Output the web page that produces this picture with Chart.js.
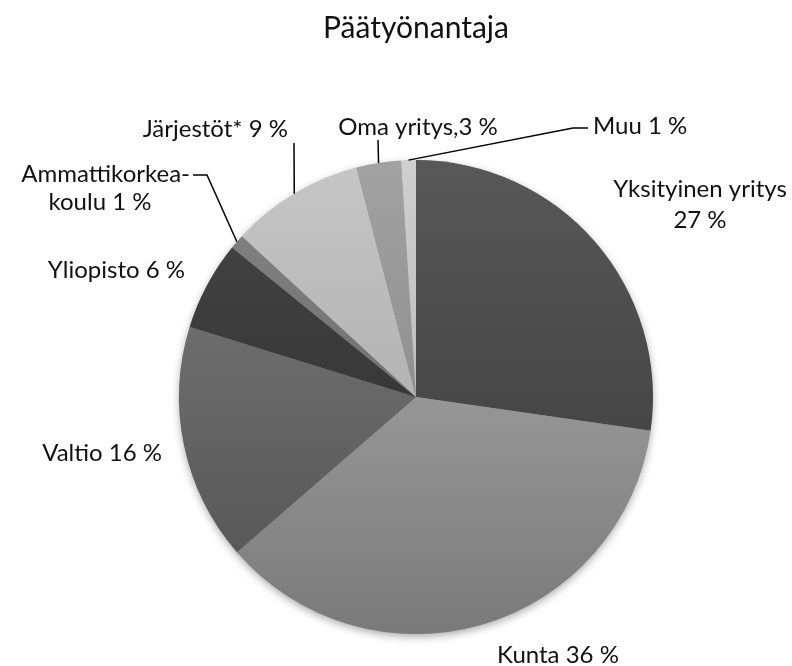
<!DOCTYPE html>
<html>
<head>
<meta charset="utf-8">
<script src="https://cdn.jsdelivr.net/npm/chart.js@4.4.1/dist/chart.umd.min.js"></script>
<style>
  html, body { margin: 0; padding: 0; background: #fff; }
  #wrap { width: 792px; height: 666px; position: relative; }
</style>
</head>
<body>
<div id="wrap"><canvas id="pie"></canvas></div>
<script>
// data
const categories = ['Yksityinen yritys', 'Kunta', 'Valtio', 'Yliopisto', 'Ammattikorkeakoulu', 'Järjestöt*', 'Oma yritys', 'Muu'];
const shares = [27, 36, 16, 6, 1, 9, 3, 1];
const labelLines = [
    ['Yksityinen yritys', '27 %'],
    ['Kunta 36 %'],
    ['Valtio 16 %'],
    ['Yliopisto 6 %'],
    ['Ammattikorkea-', 'koulu 1 %'],
    ['Järjestöt* 9 %'],
    ['Oma yritys,3 %'],
    ['Muu 1 %']
];
const chartTitle = 'Päätyönantaja';

// grey shades, top -> bottom of the pie
const shades = [
    ['#585858', '#383838'],
    ['#b2b2b2', '#7a7a7a'],
    ['#7c7c7c', '#515151'],
    ['#464646', '#2a2a2a'],
    ['#858585', '#5e5e5e'],
    ['#c6c6c6', '#a0a0a0'],
    ['#a2a2a2', '#7e7e7e'],
    ['#cfcfcf', '#ababab']
];

// where each label sits: text anchor, alignment, optional leader elbow
const labelPlaces = [
    { x: 700, y: 197, align: 'center' },
    { x: 558, y: 663, align: 'center' },
    { x: 162, y: 461, align: 'right' },
    { x: 185, y: 278, align: 'right' },
    { x: 190, y: 182, align: 'right', second: { x: 100, y: 210, align: 'center' }, leader: [[207, 175], [193, 175]] },
    { x: 288, y: 137, align: 'right', leader: [[294, 143]] },
    { x: 418, y: 135, align: 'center', leader: [[378, 140]] },
    { x: 593, y: 134, align: 'left', leader: [[573, 128], [588, 128]] }
];

const FONT = 'Lato, "Open Sans", sans-serif';

const pieDecor = {
    id: 'pieDecor',
    beforeDatasetsDraw(chart) {
        const arc = chart.getDatasetMeta(0).data[0];
        if (!arc) return;
        const ctx = chart.ctx;
        ctx.save();
        ctx.shadowColor = 'rgba(0,0,0,0.35)';
        ctx.shadowBlur = 9;
        ctx.shadowOffsetY = 3;
        ctx.fillStyle = '#888';
        ctx.beginPath();
        ctx.arc(arc.x, arc.y, arc.outerRadius - 0.5, 0, Math.PI * 2);
        ctx.fill();
        ctx.restore();
    },
    afterDatasetsDraw(chart) {
        const ctx = chart.ctx;
        const arcs = chart.getDatasetMeta(0).data;
        ctx.save();
        ctx.fillStyle = '#111';
        ctx.font = '30px ' + FONT;
        ctx.textAlign = 'center';
        ctx.textBaseline = 'alphabetic';
        ctx.fillText(chartTitle, 416, 38);

        ctx.font = '24px ' + FONT;
        arcs.forEach((arc, i) => {
            const p = labelPlaces[i];
            const lines = labelLines[i];
            if (p.leader) {
                const mid = (arc.startAngle + arc.endAngle) / 2;
                const sx = arc.x + Math.cos(mid) * arc.outerRadius;
                const sy = arc.y + Math.sin(mid) * arc.outerRadius;
                ctx.strokeStyle = '#000';
                ctx.lineWidth = 1.5;
                ctx.beginPath();
                ctx.moveTo(sx, sy);
                p.leader.forEach(pt => ctx.lineTo(pt[0], pt[1]));
                ctx.stroke();
            }
            ctx.textAlign = p.align;
            ctx.fillText(lines[0], p.x, p.y);
            if (lines.length > 1) {
                if (p.second) {
                    ctx.textAlign = p.second.align;
                    ctx.fillText(lines[1], p.second.x, p.second.y);
                } else {
                    ctx.fillText(lines[1], p.x, p.y + 31);
                }
            }
        });
        ctx.restore();
    }
};

new Chart(document.getElementById('pie'), {
    type: 'pie',
    data: {
        labels: categories,
        datasets: [{
            data: shares,
            borderWidth: 0,
            backgroundColor: (c) => {
                const area = c.chart.chartArea;
                const pair = shades[c.dataIndex];
                if (!area) return pair[0];
                const g = c.chart.ctx.createLinearGradient(0, area.top, 0, area.bottom);
                g.addColorStop(0, pair[0]);
                g.addColorStop(1, pair[1]);
                return g;
            }
        }]
    },
    options: {
        responsive: true,
        maintainAspectRatio: false,
        animation: false,
        layout: { padding: { top: 160, bottom: 32, left: 179, right: 139 } },
        plugins: {
            legend: { display: false },
            tooltip: { enabled: false },
            title: { display: false }
        }
    },
    plugins: [pieDecor]
});
</script>
</body>
</html>
